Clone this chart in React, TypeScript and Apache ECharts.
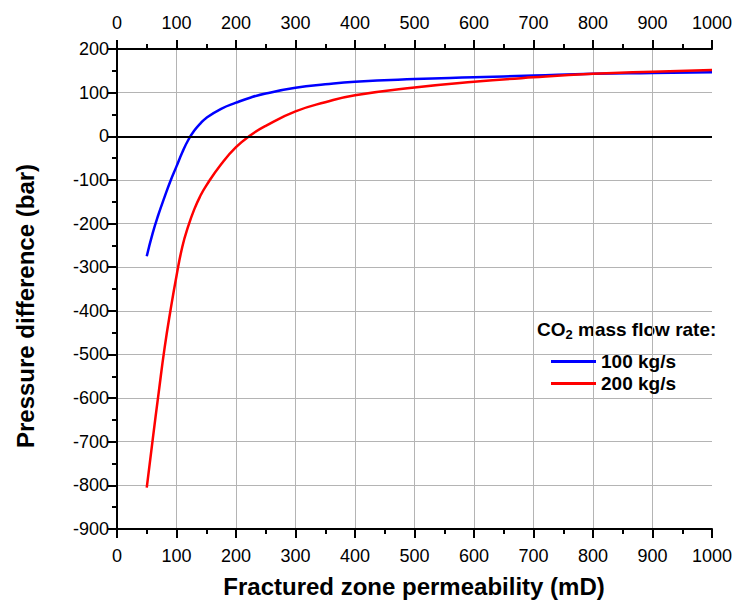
import React, { useEffect, useRef } from "react";
import * as echarts from "echarts";

const permeability = [50, 60, 70, 80, 90, 100, 110, 120, 130, 140, 150, 175, 200, 225, 250, 300, 350, 400, 500, 600, 700, 800, 900, 1000];
const flow100 = [-275, -222, -178, -139, -102, -69, -36, -8, 13, 29, 42, 63, 77, 89, 98, 111, 119, 125, 131, 135, 139, 143, 145, 147];
const flow200 = [-805, -695, -588, -485, -398, -320, -252, -205, -167, -137, -113, -64, -25, 3, 24, 57, 78, 94, 112, 125, 135, 143, 148, 152];
const seriesNames = ["100 kg/s", "200 kg/s"];
const xTitle = "Fractured zone permeability (mD)";
const yTitle = "Pressure difference (bar)";

const FONT = "'Liberation Sans', Arial, sans-serif";

export default function App() {
  const ref = useRef<HTMLDivElement>(null);
  useEffect(() => {
    if (!ref.current) return;
    const chart = echarts.init(ref.current, undefined, { renderer: "svg" });
    const pairs = (ys: number[]) => permeability.map((x, i) => [x, ys[i]]);
    const plain = (v: number) => String(v);
    const axisCommon = {
      type: "value",
      min: 0,
      max: 1000,
      interval: 100,
      axisLine: { show: true, onZero: false, lineStyle: { color: "#000", width: 2 } },
      axisTick: { show: true, inside: false, length: 9, lineStyle: { color: "#000", width: 2 } },
      minorTick: { show: true, splitNumber: 2, length: 5, lineStyle: { color: "#000", width: 2 } },
      axisLabel: { color: "#000", fontSize: 18, fontFamily: FONT, formatter: plain },
    };
    chart.setOption({
      animation: false,
      backgroundColor: "#fff",
      grid: { left: 117, right: 25, top: 49, bottom: 76, containLabel: false },
      xAxis: [
        {
          ...axisCommon,
          position: "bottom",
          axisLabel: { ...axisCommon.axisLabel, margin: 18 },
          splitLine: { show: true, showMinLine: false, showMaxLine: false, lineStyle: { color: "#b4b4b4", width: 1 } },
        },
        {
          ...axisCommon,
          position: "top",
          axisLabel: { ...axisCommon.axisLabel, margin: 17 },
          splitLine: { show: false },
        },
      ],
      yAxis: {
        type: "value",
        min: -900,
        max: 200,
        interval: 100,
        axisLine: { show: true, onZero: false, lineStyle: { color: "#000", width: 2 } },
        axisTick: { show: true, inside: false, length: 9, lineStyle: { color: "#000", width: 2 } },
        minorTick: { show: true, splitNumber: 2, length: 5, lineStyle: { color: "#000", width: 2 } },
        axisLabel: { color: "#000", fontSize: 18, fontFamily: FONT, margin: 8, formatter: plain },
        splitLine: { show: true, showMinLine: false, showMaxLine: false, lineStyle: { color: "#b4b4b4", width: 1 } },
      },
      legend: {
        data: seriesNames,
        orient: "vertical",
        left: 546,
        top: 347,
        itemWidth: 45,
        itemHeight: 3,
        itemGap: 3,
        icon: "rect",
        textStyle: { color: "#000", fontSize: 19, fontWeight: "bold", fontFamily: FONT },
      },
      graphic: [
        {
          type: "text",
          left: 537,
          top: 320,
          style: {
            text: "{a|CO}{s|2}{a| mass flow rate:}",
            fill: "#000",
            rich: {
              a: { fontSize: 19, fontWeight: "bold", fontFamily: FONT, fill: "#000" },
              s: { fontSize: 13, fontWeight: "bold", fontFamily: FONT, fill: "#000", padding: [9, 0, 0, 0] },
            },
          },
        },
        {
          type: "text",
          x: 414,
          y: 586,
          style: {
            text: xTitle,
            fill: "#000",
            font: `bold 24px ${FONT}`,
            textAlign: "center",
            textVerticalAlign: "middle",
          },
        },
        {
          type: "text",
          x: 25,
          y: 306,
          rotation: Math.PI / 2,
          style: {
            text: yTitle,
            fill: "#000",
            font: `bold 24px ${FONT}`,
            textAlign: "center",
            textVerticalAlign: "middle",
          },
        },
      ],
      series: [
        {
          name: seriesNames[0],
          type: "line",
          xAxisIndex: 0,
          data: pairs(flow100),
          smooth: 0.5,
          showSymbol: false,
          lineStyle: { color: "#0000ff", width: 2.5 },
          itemStyle: { color: "#0000ff" },
          markLine: {
            silent: true,
            symbol: ["none", "none"],
            label: { show: false },
            lineStyle: { color: "#000", width: 2, type: "solid" },
            data: [{ yAxis: 0 }],
          },
        },
        {
          name: seriesNames[1],
          type: "line",
          xAxisIndex: 0,
          data: pairs(flow200),
          smooth: 0.5,
          showSymbol: false,
          lineStyle: { color: "#ff0000", width: 2.5 },
          itemStyle: { color: "#ff0000" },
        },
      ],
    });
    return () => chart.dispose();
  }, []);
  return <div ref={ref} style={{ position: "absolute", left: 0, top: 0, width: 737, height: 605 }} />;
}
